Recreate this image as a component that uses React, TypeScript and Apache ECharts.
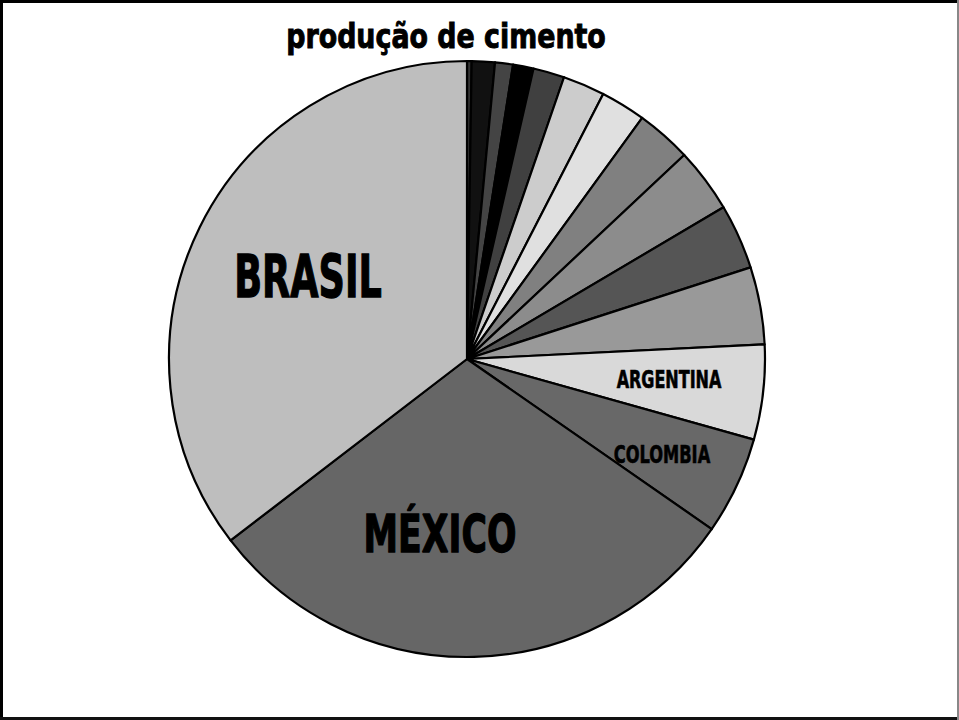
import React, { useEffect, useRef } from "react";
import * as echarts from "echarts";

const titleText = "produção de cimento";
const countries = [
  "Outro 1", "Outro 2", "Outro 3", "Outro 4", "Outro 5", "Outro 6", "Outro 7",
  "Outro 8", "Outro 9", "Outro 10", "Outro 11", "ARGENTINA", "COLOMBIA", "MÉXICO", "BRASIL",
];
const shares = [0.9, 4.5, 3.5, 4.0, 6.1, 8.2, 8.8, 10.8, 12.6, 12.7, 15.1, 18.5, 19.1, 107.7, 127.5];
const sliceColors = [
  "#333333", "#111111", "#444444", "#000000", "#404040", "#cccccc", "#e0e0e0",
  "#808080", "#8c8c8c", "#555555", "#999999", "#d9d9d9", "#686868", "#666666", "#bebebe",
];
const shownLabels = ["BRASIL", "MÉXICO", "ARGENTINA", "COLOMBIA"];

export default function App() {
  const ref = useRef<HTMLDivElement>(null);
  useEffect(() => {
    document.body.style.margin = "0";
    const chart = echarts.init(ref.current!, null, { renderer: "svg" });
    const font = "DejaVu Sans";
    const labelText = (text: string, x: number, y: number, size: number, sx: number, sw: number) => ({
      type: "text",
      x,
      y,
      scaleX: sx,
      z: 100,
      style: {
        text,
        fontFamily: font,
        fontWeight: "bold",
        fontSize: size,
        fill: "#000",
        stroke: "#000",
        lineWidth: sw,
        textAlign: "center",
        textVerticalAlign: "middle",
      },
    });
    chart.setOption({
      animation: false,
      backgroundColor: "#ffffff",
      series: [
        {
          type: "pie",
          center: [467, 359],
          radius: 298,
          startAngle: 90,
          clockwise: true,
          label: { show: false },
          labelLine: { show: false },
          emphasis: { disabled: true },
          itemStyle: { borderColor: "#000", borderWidth: 2.2 },
          data: countries.map((n, i) => ({
            name: n,
            value: shares[i],
            itemStyle: { color: sliceColors[i] },
          })),
        },
      ],
      graphic: [
        labelText(titleText, 446, 36, 34, 0.79, 1),
        labelText(shownLabels[0], 308, 277, 59, 0.62, 1.4),
        labelText(shownLabels[1], 440, 534, 51, 0.68, 1.4),
        labelText(shownLabels[2], 669, 380, 25, 0.64, 0.7),
        labelText(shownLabels[3], 662, 454, 25, 0.65, 0.7),
        {
          type: "polyline",
          z: 200,
          shape: { points: [[1.5, 720], [1.5, 1.5], [959, 1.5]] },
          style: { stroke: "#000", lineWidth: 3, fill: null },
        },
        {
          type: "line",
          z: 200,
          shape: { x1: 0, y1: 718.5, x2: 959, y2: 718.5 },
          style: { stroke: "#111", lineWidth: 3 },
        },
        {
          type: "line",
          z: 200,
          shape: { x1: 958, y1: 0, x2: 958, y2: 720 },
          style: { stroke: "#888", lineWidth: 2 },
        },
      ],
    });
    return () => chart.dispose();
  }, []);
  return (
    <div
      ref={ref}
      style={{ position: "absolute", left: 0, top: 0, width: 959, height: 720 }}
    />
  );
}
